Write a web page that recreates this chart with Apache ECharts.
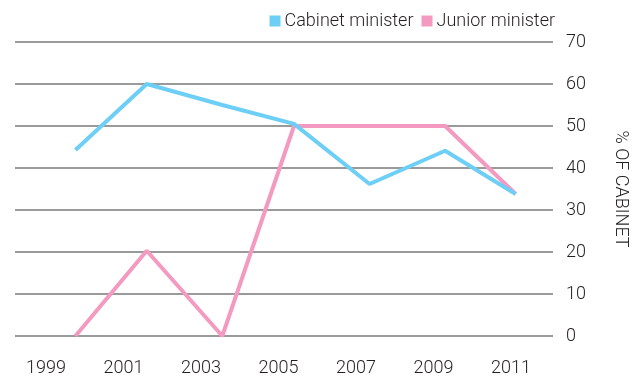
<!DOCTYPE html>
<html>
<head>
<meta charset="utf-8">
<script src="https://cdn.jsdelivr.net/npm/echarts@6/dist/echarts.min.js"></script>
<style>
  html, body { margin: 0; padding: 0; background: #ffffff; }
  #chart { width: 644px; height: 378px; }
</style>
</head>
<body>
<div id="chart"></div>
<script>
// Year labels shown along the bottom
const tickYears = [1999, 2001, 2003, 2005, 2007, 2009, 2011];
// Year position of each observation
const pointYears = [1999.76, 2001.6, 2003.55, 2005.4, 2007.35, 2009.3, 2011.12];
// Share of cabinet (%)
const cabinetMinister = [44.3, 60, 55, 50.5, 36.2, 44.1, 33.8];
const juniorMinister = [0, 20.3, 0, 50, 50, 50, 33.8];

const FONT = 'Roboto';
const TEXT = '#231f20';
const SIZE = 18;

const pairs = (xs, ys) => xs.map((x, i) => [x, ys[i]]);

const chart = echarts.init(document.getElementById('chart'), null, { renderer: 'canvas' });
chart.setOption({
  animation: false,
  backgroundColor: '#ffffff',
  textStyle: { fontFamily: FONT },
  legend: {
    data: ['Cabinet minister', 'Junior minister'],
    right: 84,
    top: 7,
    icon: 'rect',
    itemWidth: 11,
    itemHeight: 11,
    itemGap: 8,
    textStyle: { fontFamily: FONT, fontWeight: 300, fontSize: SIZE, color: TEXT, padding: [0, 0, 0, -1] }
  },
  grid: { left: 15, right: 91, top: 42, bottom: 42 },
  xAxis: {
    type: 'value',
    min: 1998.2,
    max: 2012.084,
    axisLine: { show: false },
    axisTick: { show: false },
    splitLine: { show: false },
    axisLabel: {
      customValues: tickYears,
      formatter: v => String(v),
      margin: 23,
      fontFamily: FONT,
      fontWeight: 300,
      fontSize: SIZE,
      color: TEXT
    }
  },
  yAxis: {
    type: 'value',
    position: 'right',
    min: 0,
    max: 70,
    interval: 10,
    name: '% OF CABINET',
    nameLocation: 'middle',
    nameRotate: -90,
    nameGap: 58,
    nameTextStyle: { fontFamily: FONT, fontWeight: 300, fontSize: SIZE, color: TEXT },
    axisLine: { show: false },
    axisTick: { show: false },
    splitLine: { show: true, lineStyle: { color: '#9a9a9a', width: 2 } },
    axisLabel: { margin: 13, fontFamily: FONT, fontWeight: 300, fontSize: SIZE, color: TEXT }
  },
  series: [
    {
      name: 'Junior minister',
      type: 'line',
      data: pairs(pointYears, juniorMinister),
      symbol: 'none',
      color: '#f49ac1',
      lineStyle: { color: '#f49ac1', width: 4 }
    },
    {
      name: 'Cabinet minister',
      type: 'line',
      data: pairs(pointYears, cabinetMinister),
      symbol: 'none',
      color: '#6dcff6',
      lineStyle: { color: '#6dcff6', width: 4 }
    }
  ]
});
</script>
</body>
</html>
